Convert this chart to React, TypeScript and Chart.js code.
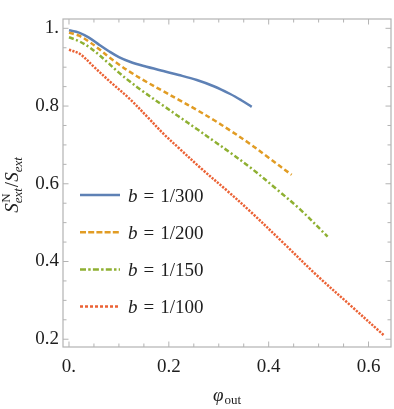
import React, { useEffect, useRef } from 'react';
import { Chart, registerables } from 'chart.js';

Chart.register(...registerables);

// ---- data ----
const blueX = [0, 0.02, 0.04, 0.06, 0.08, 0.10, 0.122, 0.15, 0.189, 0.22, 0.256, 0.29, 0.323, 0.345, 0.366];
const blueY = [0.995, 0.989, 0.976, 0.958, 0.941, 0.926, 0.914, 0.903, 0.890, 0.880, 0.867, 0.851, 0.831, 0.815, 0.798];

const orangeX = [0, 0.02, 0.04, 0.06, 0.08, 0.10, 0.122, 0.15, 0.189, 0.22, 0.256, 0.29, 0.323, 0.36, 0.40, 0.446];
const orangeY = [0.989, 0.981, 0.966, 0.947, 0.926, 0.907, 0.888, 0.866, 0.838, 0.816, 0.790, 0.764, 0.737, 0.705, 0.667, 0.623];

const greenX = [0, 0.02, 0.04, 0.06, 0.08, 0.10, 0.122, 0.15, 0.189, 0.22, 0.256, 0.29, 0.323, 0.366, 0.416, 0.463, 0.518];
const greenY = [0.977, 0.967, 0.952, 0.932, 0.909, 0.886, 0.863, 0.836, 0.801, 0.773, 0.741, 0.710, 0.680, 0.639, 0.586, 0.534, 0.464];

const redX = [0, 0.022, 0.049, 0.082, 0.122, 0.16, 0.189, 0.22, 0.266, 0.316, 0.363, 0.430, 0.496, 0.563, 0.630];
const redY = [0.945, 0.934, 0.902, 0.863, 0.818, 0.768, 0.729, 0.692, 0.638, 0.583, 0.529, 0.447, 0.365, 0.288, 0.211];

const bLabels = ['1/300', '1/200', '1/150', '1/100'];

const xMajor = [0, 0.2, 0.4, 0.6];
const xMinor = [0.05, 0.1, 0.15, 0.25, 0.3, 0.35, 0.45, 0.5, 0.55];
const yMajor = [0.2, 0.4, 0.6, 0.8, 1.0];
const yMinor = [0.25, 0.3, 0.35, 0.45, 0.5, 0.55, 0.65, 0.7, 0.75, 0.85, 0.9, 0.95];

// ---- styles ----
const colors = ['#5E81B5', '#E19C24', '#8FB032', '#EB6235'];
const dashes: number[][] = [[], [5, 3], [5, 2.5, 2, 2.5], [2.2, 1.3]];
const legendDashes: number[][] = [[], [6, 2.2], [6, 2.2, 2.5, 2.2], [3, 2]];
const SERIF = '"Liberation Serif", "DejaVu Serif", serif';
const FRAME = '#b3b3b3';
const TEXT = '#1e1e1e';

const fmt = (v: number) => (v === 0 ? '0.' : v === 1 ? '1.' : v.toFixed(1));

const toPts = (xs: number[], ys: number[]) => xs.map((x, i) => ({ x, y: ys[i] }));

const decorPlugin = {
  id: 'decor',
  afterDraw(chart: any) {
    const { ctx, chartArea } = chart;
    const { left, right, top, bottom } = chartArea;
    const xs = chart.scales.x;
    const ys = chart.scales.y;
    ctx.save();
    // frame
    ctx.strokeStyle = FRAME;
    ctx.lineWidth = 1.2;
    ctx.setLineDash([]);
    ctx.strokeRect(left, top, right - left, bottom - top);
    // ticks
    const tick = (v: number, len: number, axis: 'x' | 'y') => {
      ctx.beginPath();
      if (axis === 'x') {
        const p = xs.getPixelForValue(v);
        ctx.moveTo(p, bottom);
        ctx.lineTo(p, bottom - len);
        ctx.moveTo(p, top);
        ctx.lineTo(p, top + len);
      } else {
        const p = ys.getPixelForValue(v);
        ctx.moveTo(left, p);
        ctx.lineTo(left + len, p);
        ctx.moveTo(right, p);
        ctx.lineTo(right - len, p);
      }
      ctx.stroke();
    };
    ctx.lineWidth = 1;
    xMajor.forEach((v) => tick(v, 5.5, 'x'));
    xMinor.forEach((v) => tick(v, 3.5, 'x'));
    yMajor.forEach((v) => tick(v, 5.5, 'y'));
    yMinor.forEach((v) => tick(v, 3.5, 'y'));

    ctx.fillStyle = TEXT;
    ctx.textBaseline = 'alphabetic';
    ctx.textAlign = 'left';

    // legend
    const lx0 = left + 17;
    const lx1 = left + 57;
    const tx = left + 65;
    bLabels.forEach((lab, i) => {
      const y = 195 + i * 37.2;
      ctx.strokeStyle = colors[i];
      ctx.lineWidth = 2.5;
      ctx.setLineDash(legendDashes[i]);
      ctx.beginPath();
      ctx.moveTo(lx0, y);
      ctx.lineTo(lx1, y);
      ctx.stroke();
      ctx.setLineDash([]);
      const base = y + 6.5;
      let x = tx;
      ctx.font = `italic 19px ${SERIF}`;
      ctx.fillText('b', x, base);
      x += ctx.measureText('b').width + 6;
      ctx.font = `19px ${SERIF}`;
      ctx.fillText('=', x, base);
      x += ctx.measureText('=').width + 6;
      ctx.fillText(lab, x, base);
    });

    // y axis title: S^N_ext / S_ext
    ctx.save();
    ctx.translate(18, 185);
    ctx.rotate(-Math.PI / 2);
    const mainF = `italic 19px ${SERIF}`;
    const supF = `13px ${SERIF}`;
    const subF = `italic 13px ${SERIF}`;
    const slashF = `19px ${SERIF}`;
    const meas = (t: string, f: string) => {
      ctx.font = f;
      return ctx.measureText(t).width;
    };
    const wS = meas('S', mainF);
    const wN = meas('N', supF);
    const wExt = meas('ext', subF);
    const wSl = meas('/', slashF);
    const total = wS + Math.max(wN, wExt) + 1 + wSl + wS + wExt;
    let x = -total / 2;
    ctx.font = mainF;
    ctx.fillText('S', x, 0);
    x += wS;
    ctx.font = supF;
    ctx.fillText('N', x + 0.5, -8);
    ctx.font = subF;
    ctx.fillText('ext', x, 4);
    x += Math.max(wN, wExt) + 1;
    ctx.font = slashF;
    ctx.fillText('/', x, 0);
    x += wSl;
    ctx.font = mainF;
    ctx.fillText('S', x, 0);
    x += wS;
    ctx.font = subF;
    ctx.fillText('ext', x, 4);
    ctx.restore();

    // x axis title: φ_out
    const phiF = `italic 19px ${SERIF}`;
    const outF = `13px ${SERIF}`;
    const wPhi = meas('φ', phiF);
    const wOut = meas('out', outF);
    const cx = (left + right) / 2;
    let px = cx - (wPhi + wOut + 1) / 2;
    ctx.font = phiF;
    ctx.fillText('φ', px, 401);
    px += wPhi + 1;
    ctx.font = outF;
    ctx.fillText('out', px, 404);

    ctx.restore();
  },
};

export default function App() {
  const ref = useRef<HTMLCanvasElement | null>(null);

  useEffect(() => {
    if (!ref.current) return;
    const series = [
      toPts(blueX, blueY),
      toPts(orangeX, orangeY),
      toPts(greenX, greenY),
      toPts(redX, redY),
    ];
    const chart = new Chart(ref.current, {
      type: 'line',
      data: {
        datasets: series.map((d, i) => ({
          label: 'b = ' + bLabels[i],
          data: d,
          borderColor: colors[i],
          backgroundColor: colors[i],
          borderWidth: 2.5,
          borderDash: dashes[i],
          borderCapStyle: 'butt' as const,
          borderJoinStyle: 'round' as const,
          pointRadius: 0,
          fill: false,
          tension: 0.35,
          order: 4 - i,
        })),
      },
      options: {
        responsive: false,
        animation: false,
        layout: { padding: { top: 19, right: 3, left: 0, bottom: 0 } },
        plugins: {
          legend: { display: false },
          tooltip: { enabled: false },
          title: { display: false },
        },
        scales: {
          x: {
            type: 'linear',
            min: -0.012,
            max: 0.645,
            grid: { display: false, drawTicks: false },
            border: { display: false },
            ticks: {
              padding: 9,
              color: TEXT,
              font: { family: SERIF, size: 19 },
              callback: (v: any) => fmt(Number(v)),
              maxRotation: 0,
              autoSkip: false,
            },
            afterBuildTicks: (s: any) => {
              s.ticks = xMajor.map((v) => ({ value: v }));
            },
            afterFit: (s: any) => {
              s.height = 62;
            },
          },
          y: {
            type: 'linear',
            min: 0.18,
            max: 1.024,
            grid: { display: false, drawTicks: false },
            border: { display: false },
            ticks: {
              padding: 4,
              color: TEXT,
              font: { family: SERIF, size: 19 },
              callback: (v: any) => fmt(Number(v)),
              autoSkip: false,
            },
            afterBuildTicks: (s: any) => {
              s.ticks = yMajor.map((v) => ({ value: v }));
            },
            afterFit: (s: any) => {
              s.width = 63;
            },
          },
        },
      },
      plugins: [decorPlugin],
    });
    return () => chart.destroy();
  }, []);

  return (
    <div style={{ position: 'fixed', left: 0, top: 0, width: 394, height: 409, background: '#fff' }}>
      <canvas ref={ref} width={394} height={409} style={{ width: 394, height: 409, display: 'block' }} />
    </div>
  );
}
